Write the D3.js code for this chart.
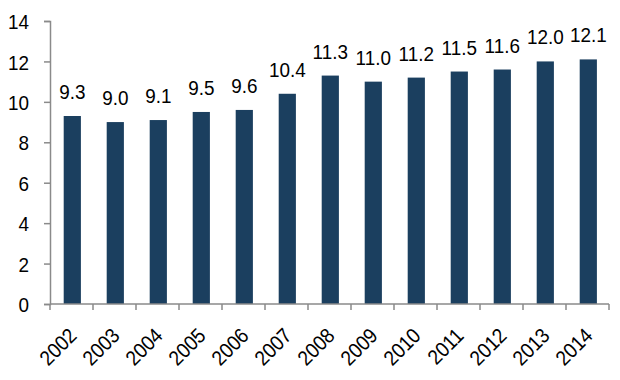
<!DOCTYPE html>
<html><head><meta charset="utf-8">
<script src="https://cdn.jsdelivr.net/npm/d3@7"></script>
<style>body{margin:0;background:#fff}svg{display:block}text{font-family:"Liberation Sans",Arial,sans-serif;fill:#000}</style>
</head><body>
<svg id="c" width="620" height="380"></svg>
<script>
const years = ["2002","2003","2004","2005","2006","2007","2008","2009","2010","2011","2012","2013","2014"];
const values = [9.3,9.0,9.1,9.5,9.6,10.4,11.3,11.0,11.2,11.5,11.6,12.0,12.1];
const yTicks = [0,2,4,6,8,10,12,14];

const svg = d3.select("#c");
const x0 = 50, x1 = 609, yTop = 21, yBot = 304;
const x = d3.scaleBand().domain(years).range([x0, x1]).paddingInner(0.6).paddingOuter(0.3);
const y = d3.scaleLinear().domain([0,14]).range([yBot, yTop]);
const axisColor = "#8a8a8a";
const FS = 21, SX = 0.9;

svg.selectAll("rect.bar").data(values).join("rect")
  .attr("x", (d,i)=>x(years[i]) + 0.8)
  .attr("width", x.bandwidth())
  .attr("y", d=>y(d))
  .attr("height", d=>yBot - y(d))
  .attr("fill", "#1b3f5f");

svg.selectAll("text.val").data(values).join("text")
  .attr("transform", (d,i)=>`translate(${x(years[i]) + x.bandwidth()/2 + 0.8},${y(d) - 17}) scale(${SX},1)`)
  .attr("text-anchor","middle")
  .attr("font-size", FS)
  .text(d=>d.toFixed(1));

// y axis
const ya = svg.append("g").attr("transform", `translate(${x0},0)`)
  .call(d3.axisLeft(y).tickValues(yTicks).tickSize(6).tickFormat(d3.format("d")));
ya.select(".domain").attr("stroke", axisColor).attr("stroke-width", 1.5);
ya.selectAll(".tick line").attr("stroke", axisColor).attr("stroke-width", 1.5);
ya.selectAll(".tick text")
  .attr("x", 0).attr("dy", "0.36em")
  .attr("transform", `translate(-21,0) scale(${SX},1)`)
  .attr("font-size", FS).attr("fill","#000")
  .attr("font-family",'"Liberation Sans",Arial,sans-serif');

// x axis baseline and boundary ticks
svg.append("line").attr("x1", x0).attr("x2", x1).attr("y1", yBot).attr("y2", yBot)
  .attr("stroke", axisColor).attr("stroke-width", 1.5);
const bounds = years.map((d,i)=> i===0 ? x0 : x(d) - x.step()*x.paddingInner()/2);
bounds.push(x1);
svg.selectAll("line.bt").data(bounds).join("line")
  .attr("x1", d=>d).attr("x2", d=>d).attr("y1", yBot).attr("y2", yBot+6)
  .attr("stroke", axisColor).attr("stroke-width", 1.5);

svg.selectAll("text.xl").data(years).join("text")
  .attr("transform", d=>`translate(${x(d)+x.bandwidth()/2+6.5},${yBot+33}) rotate(-45) scale(${SX},1)`)
  .attr("text-anchor","end")
  .attr("font-size", FS)
  .text(d=>d);
</script>
</body></html>
